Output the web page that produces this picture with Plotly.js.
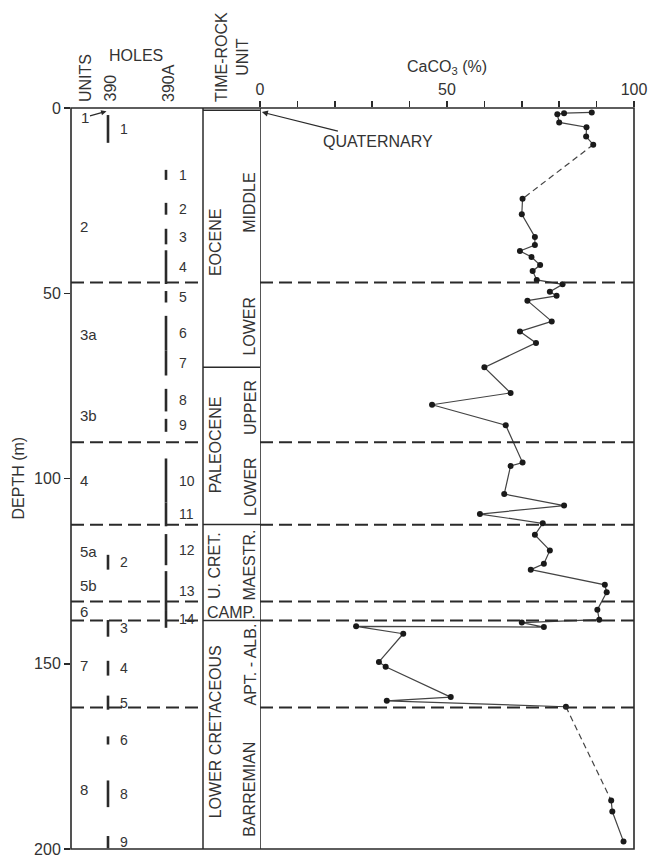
<!DOCTYPE html>
<html>
<head>
<meta charset="utf-8">
<script src="https://cdn.plot.ly/plotly-3.0.1.min.js"></script>
<style>
  html, body { margin: 0; padding: 0; background: #fff; }
  #chart { width: 648px; height: 859px; }
</style>
</head>
<body>
<div id="chart"></div>
<script>
// ---- Carbonate content versus depth, Sites 390 / 390A ----
const depthM = [1.2, 1.4, 1.7, 3.9, 5.2, 7.7, 9.9, 24.5, 28.7, 34.8, 37.0, 38.6, 40.2, 42.4, 44.0, 46.4,
  47.6, 49.6, 50.7, 52.0, 57.6, 60.3, 63.4, 70.0, 76.9, 80.1, 85.6, 95.7, 96.6, 104.2, 107.3, 109.6,
  112.1, 115.2, 119.4, 123.0, 124.6, 128.7, 130.7, 135.4, 138.1, 138.9, 140.1, 139.9, 141.9, 149.5,
  150.8, 159.0, 160.0, 161.6, 186.9, 189.9, 198.0];
const caco3Pct = [88.7, 81.3, 79.5, 80.0, 87.3, 87.2, 89.1, 70.2, 70.0, 73.5, 73.5, 69.5, 72.6, 74.9, 72.9, 74.0,
  80.9, 77.5, 79.3, 71.5, 78.0, 69.5, 73.8, 60.0, 67.0, 46.0, 65.7, 70.2, 67.0, 65.3, 81.3, 58.8,
  75.6, 73.5, 77.5, 75.9, 72.4, 92.2, 92.7, 90.2, 90.7, 70.0, 75.9, 25.7, 38.3, 31.8,
  33.6, 51.0, 33.9, 81.8, 93.9, 94.2, 97.2];
// sample index i whose link to sample i+1 is drawn dashed (gap in recovery)
const dashedLinks = [6, 49];

// lithologic unit boundaries (m)
const boundaryDepths = [47.1, 90.2, 112.5, 133.2, 138.3, 161.8];

// lithologic units
const unitNames = ['2', '3a', '3b', '4', '5a', '5b', '6', '7', '8'];
const unitDepths = [32.0, 61.0, 83.0, 100.5, 119.6, 129.0, 135.8, 150.5, 183.9];
const firstUnitName = '1';
const firstUnitDepth = 2.4;

// cored intervals, Hole 390
const hole390Cores = ['1', '2', '3', '4', '5', '6', '8', '9'];
const hole390Top = [1.9, 120.6, 138.2, 149.2, 158.6, 169.6, 181.5, 196.5];
const hole390Bottom = [9.4, 124.6, 142.7, 153.2, 162.4, 171.8, 188.7, 199.8];

// cored intervals, Hole 390A
const hole390ACores = ['1', '2', '3', '4', '5', '6', '7', '8', '9', '10', '11', '12', '13', '14'];
const hole390ATop = [16.7, 25.6, 32.6, 38.4, 49.4, 56.1, 65.5, 75.8, 83.9, 94.6, 106.5, 115.0, 125.0, 135.5];
const hole390ABottom = [19.4, 28.8, 36.8, 47.5, 52.5, 65.5, 72.2, 81.9, 87.4, 106.5, 112.9, 123.4, 135.5, 140.3];

// time-rock units
const seriesNames = ['EOCENE', 'PALEOCENE', 'U. CRET.', 'LOWER CRETACEOUS'];
const seriesDepths = [36.2, 91.0, 123.6, 168.5];
const stageNames = ['MIDDLE', 'LOWER', 'UPPER', 'LOWER', 'MAESTR.', 'APT. - ALB.', 'BARREMIAN'];
const stageDepths = [25.6, 59.0, 81.0, 102.3, 123.5, 150.2, 184.0];
const campName = 'CAMP.';
const campDepth = 136.3;
const timeRockBreaks = [70.0, 112.4, 138.3];

const depthTicks = [0, 50, 100, 150, 200];
const pctTicks = [0, 50, 100];
const pctMinorStep = 10;

// ---- column positions inside the left panel (panel x units) ----
const UNIT_X = 7, H390_X = 37, H390_LBL = 47, H390A_X = 95, H390A_LBL = 106;
const COL_L = 132, COL_R = 189, OUTER_X = 144, INNER_X = 179, COL_MID = 160.5;

const INK = '#2a2a2a';
const TXT = '#333333';
const FONT = 'Liberation Sans, Arial, Helvetica, sans-serif';

const traces = [];

// solid and dashed pieces of the carbonate curve
const solidX = [], solidY = [], dashX = [], dashY = [];
for (let i = 0; i < depthM.length; i++) {
  solidX.push(caco3Pct[i]); solidY.push(depthM[i]);
  if (dashedLinks.includes(i)) {
    solidX.push(null); solidY.push(null);
    dashX.push(caco3Pct[i], caco3Pct[i + 1], null);
    dashY.push(depthM[i], depthM[i + 1], null);
  }
}
traces.push({ x: solidX, y: solidY, xaxis: 'x2', yaxis: 'y', mode: 'lines',
  line: { color: '#444', width: 1.2 }, hoverinfo: 'skip', showlegend: false });
traces.push({ x: dashX, y: dashY, xaxis: 'x2', yaxis: 'y', mode: 'lines',
  line: { color: '#444', width: 1.2, dash: '6px,4px' }, hoverinfo: 'skip', showlegend: false });
traces.push({ x: caco3Pct, y: depthM, xaxis: 'x2', yaxis: 'y', mode: 'markers',
  marker: { color: '#1a1a1a', size: 6 }, showlegend: false });

// boundary lines (dashed) in both panels
const bLx = [], bLy = [], bRx = [], bRy = [];
boundaryDepths.forEach(d => {
  bLx.push(0, COL_L, null); bLy.push(d, d, null);
  bRx.push(0, 100, null); bRy.push(d, d, null);
});
traces.push({ x: bLx, y: bLy, xaxis: 'x', yaxis: 'y', mode: 'lines',
  line: { color: INK, width: 2, dash: '13px,6px' }, hoverinfo: 'skip', showlegend: false });
traces.push({ x: bRx, y: bRy, xaxis: 'x2', yaxis: 'y', mode: 'lines',
  line: { color: INK, width: 2, dash: '13px,6px' }, hoverinfo: 'skip', showlegend: false });

// core bars
function coreBars(xPos, tops, bottoms) {
  const xs = [], ys = [];
  tops.forEach((t, i) => { xs.push(xPos, xPos, null); ys.push(t, bottoms[i], null); });
  return { x: xs, y: ys, xaxis: 'x', yaxis: 'y', mode: 'lines',
    line: { color: INK, width: 2.6 }, hoverinfo: 'skip', showlegend: false };
}
traces.push(coreBars(H390_X, hole390Top, hole390Bottom));
traces.push(coreBars(H390A_X, hole390ATop, hole390ABottom));

// time-rock column breaks
const trX = [], trY = [];
timeRockBreaks.forEach(d => { trX.push(COL_L, COL_R, null); trY.push(d, d, null); });
trX.push(COL_L, COL_R, null); trY.push(0.6, 0.6, null);
traces.push({ x: trX, y: trY, xaxis: 'x', yaxis: 'y', mode: 'lines',
  line: { color: INK, width: 1.5 }, hoverinfo: 'skip', showlegend: false });

// ---- annotations ----
const ann = [];
const txt = (text, x, y, opts) => Object.assign({
  text, x, y, xref: 'x', yref: 'y', showarrow: false,
  font: { family: FONT, size: 15, color: TXT }
}, opts || {});

unitNames.forEach((n, i) => ann.push(txt(n, UNIT_X, unitDepths[i], { xanchor: 'left', yanchor: 'middle' })));
// unit 1 label, with a pointer to the top of core 390-1
ann.push({ text: firstUnitName, x: 35.5, y: 0.9, xref: 'x', yref: 'y', showarrow: true,
  ax: -22, ay: 6, arrowhead: 2, arrowsize: 0.9, arrowwidth: 1.2, arrowcolor: INK, standoff: 0,
  font: { family: FONT, size: 15, color: TXT } });

hole390Cores.forEach((c, i) => ann.push(txt(c, H390_LBL, (hole390Top[i] + hole390Bottom[i]) / 2,
  { xanchor: 'left', yanchor: 'middle', font: { family: FONT, size: 14, color: TXT } })));
hole390ACores.forEach((c, i) => ann.push(txt(c, H390A_LBL, (hole390ATop[i] + hole390ABottom[i]) / 2,
  { xanchor: 'left', yanchor: 'middle', font: { family: FONT, size: 14, color: TXT } })));

const colFont = { family: FONT, size: 16, color: TXT };
seriesNames.forEach((s, i) => ann.push(txt(s, OUTER_X, seriesDepths[i], { textangle: -90, font: colFont })));
stageNames.forEach((s, i) => ann.push(txt(s, INNER_X, stageDepths[i], { textangle: -90, font: colFont })));
ann.push(txt(campName, COL_MID, campDepth, { font: colFont }));

// column headers
const hdrFont = { family: FONT, size: 16, color: TXT };
const hdr = (text, x, opts) => Object.assign({ text, x, xref: 'x', y: 1, yref: 'paper',
  showarrow: false, font: hdrFont, textangle: -90, xanchor: 'center', yanchor: 'bottom', yshift: 4 }, opts || {});
ann.push(hdr('UNITS', 14));
ann.push(hdr('390', 39));
ann.push(hdr('390A', 97));
ann.push(hdr('TIME-ROCK<br>UNIT', 161));
ann.push(hdr('HOLES', 64.5, { textangle: 0, yanchor: 'middle', yshift: 53 }));

ann.push({ text: 'CaCO<sub>3</sub> (%)', x: 50, xref: 'x2', y: 1, yref: 'paper', yanchor: 'middle',
  yshift: 41, showarrow: false, font: hdrFont });

ann.push({ text: 'QUATERNARY', x: 0.5, y: 1.1, xref: 'x2', yref: 'y', showarrow: true,
  ax: 116, ay: 29, arrowhead: 2, arrowsize: 1, arrowwidth: 1.2, arrowcolor: INK, standoff: 0,
  font: { family: FONT, size: 16, color: TXT } });

ann.push({ text: 'DEPTH (m)', x: 0, xref: 'paper', xanchor: 'center', xshift: -53, y: 0.5, yref: 'paper',
  yanchor: 'middle', textangle: -90, showarrow: false, font: hdrFont });

// ---- frame ----
const shapes = [
  { type: 'rect', xref: 'paper', yref: 'paper', x0: 0, x1: 1, y0: 0, y1: 1,
    line: { color: INK, width: 1.6 } },
  { type: 'line', xref: 'x', yref: 'paper', x0: COL_L, x1: COL_L, y0: 0, y1: 1,
    line: { color: INK, width: 1.5 } },
  { type: 'line', xref: 'x2', yref: 'paper', x0: 0, x1: 0, y0: 0, y1: 1,
    line: { color: INK, width: 1.6 } }
];

const leftFrac = (260 - 71) / 563;

const layout = {
  width: 648, height: 859,
  margin: { l: 71, r: 14, t: 108, b: 10, pad: 0 },
  paper_bgcolor: '#fff', plot_bgcolor: '#fff',
  showlegend: false,
  font: { family: FONT, color: TXT },
  xaxis: { domain: [0, leftFrac], range: [0, COL_R], anchor: 'y', showgrid: false, zeroline: false,
    showticklabels: false, ticks: '', showline: false, fixedrange: true },
  xaxis2: { domain: [leftFrac, 1], range: [0, 100], anchor: 'y', side: 'top',
    tickvals: pctTicks, ticks: 'outside', ticklen: 6, tickwidth: 1.5,
    minor: { dtick: pctMinorStep, ticks: 'outside', ticklen: 6, tickwidth: 1.5, tickcolor: INK, showgrid: false },
    tickcolor: INK, showgrid: false, zeroline: false, showline: false, ticklabeloverflow: 'allow',
    tickfont: { family: FONT, size: 16, color: TXT } },
  yaxis: { range: [200, 0], anchor: 'x', tickvals: depthTicks, ticks: 'outside', ticklen: 6,
    tickwidth: 1.5, tickcolor: INK, showgrid: false, zeroline: false, showline: false,
    ticklabeloverflow: 'allow',
    tickfont: { family: FONT, size: 16, color: TXT } },
  annotations: ann,
  shapes: shapes
};

Plotly.newPlot('chart', traces, layout, { staticPlot: true, displayModeBar: false });
</script>
</body>
</html>
